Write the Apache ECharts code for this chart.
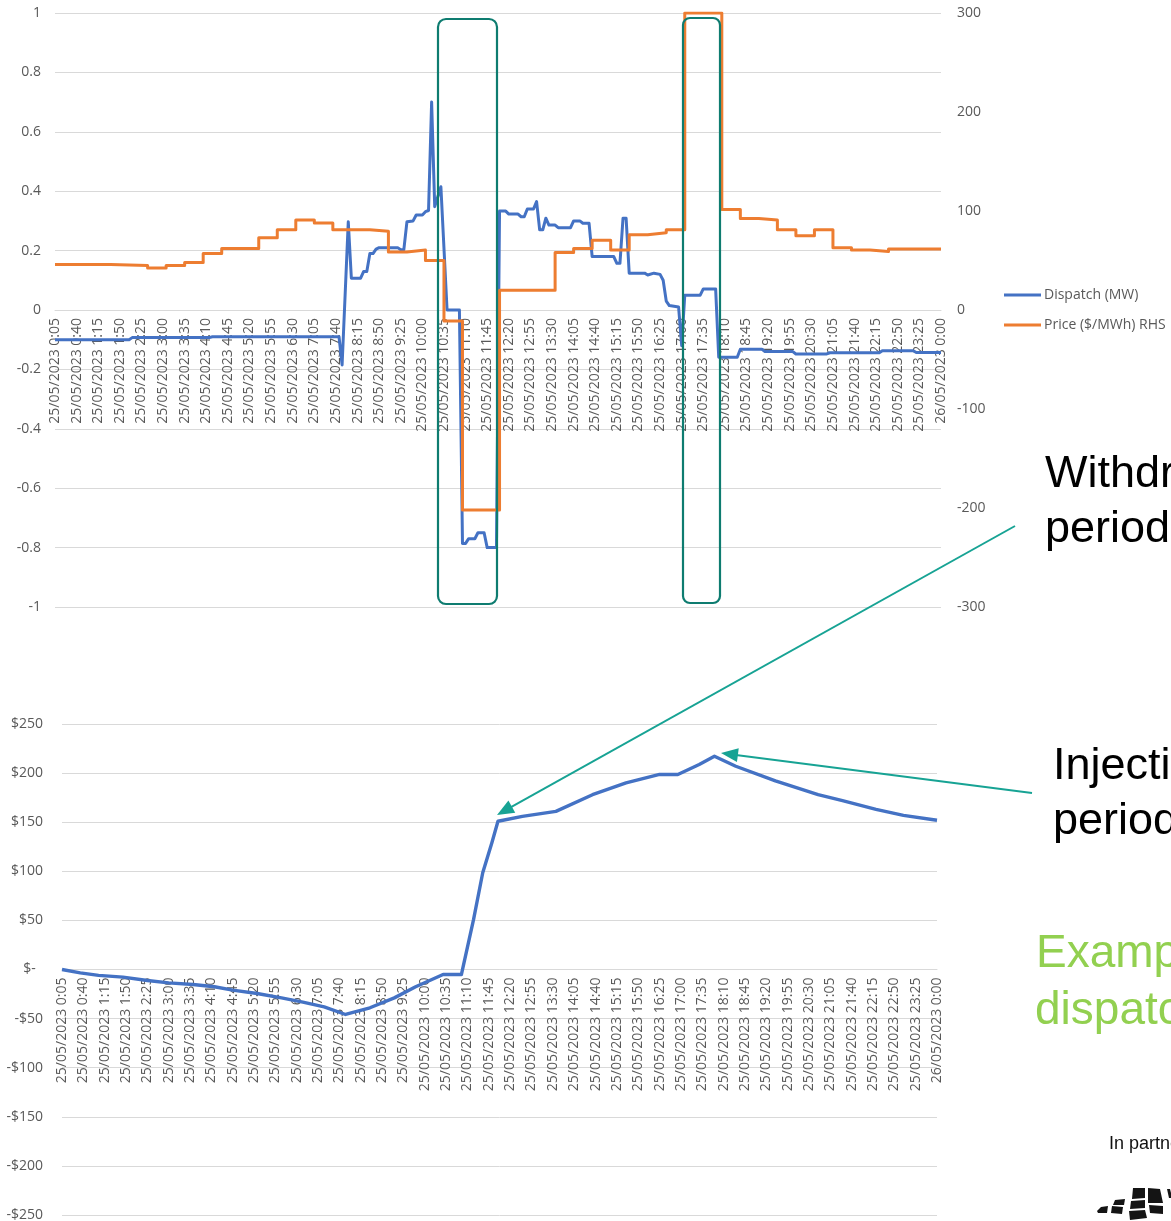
<!DOCTYPE html>
<html>
<head>
<meta charset="utf-8">
<title>Battery dispatch, price and cumulative revenue – 25/05/2023</title>
<script src="https://cdn.jsdelivr.net/npm/echarts@6/dist/echarts.min.js"></script>
<style>
  html, body { margin: 0; padding: 0; background: #ffffff; }
  #chart { width: 1171px; height: 1221px; }
</style>
</head>
<body>
<div id="chart"></div>
<script>
// ---- Data: 25/05/2023, five-minute dispatch intervals --------------------

// Category axis: one slot per five-minute interval ending 0:05 ... 24:00
const categories = [];
for (let m = 5; m <= 1440; m += 5) {
  const day = m === 1440 ? '26/05/2023' : '25/05/2023';
  const h = Math.floor(m / 60) % 24;
  const mm = String(m % 60).padStart(2, '0');
  categories.push(day + ' ' + h + ':' + mm);
}
// A date label is printed on every 7th slot (every 35 minutes)
const labelEvery = 7;

// Battery dispatch (MW) at the intervals where it changes
const dispatchMW = [
  ['0:05', -0.10], ['2:05', -0.10], ['2:10', -0.093], ['4:15', -0.093], ['4:20', -0.09],
  ['7:45', -0.09], ['7:50', -0.185], ['8:00', 0.297], ['8:05', 0.107], ['8:20', 0.107],
  ['8:25', 0.13], ['8:30', 0.13], ['8:35', 0.19], ['8:40', 0.19], ['8:45', 0.205],
  ['8:50', 0.21], ['9:20', 0.21], ['9:25', 0.203], ['9:30', 0.203], ['9:35', 0.297],
  ['9:45', 0.30], ['9:50', 0.32], ['10:00', 0.32], ['10:05', 0.331], ['10:10', 0.335],
  ['10:15', 0.70], ['10:20', 0.348], ['10:30', 0.415], ['10:40', 0], ['11:00', 0],
  ['11:05', -0.786], ['11:10', -0.786], ['11:15', -0.77], ['11:25', -0.77], ['11:30', -0.75],
  ['11:40', -0.75], ['11:45', -0.80], ['12:00', -0.80], ['12:05', 0.333], ['12:15', 0.333],
  ['12:20', 0.323], ['12:35', 0.323], ['12:40', 0.314], ['12:45', 0.314], ['12:50', 0.34],
  ['13:00', 0.34], ['13:05', 0.365], ['13:10', 0.27], ['13:15', 0.27], ['13:20', 0.309],
  ['13:25', 0.286], ['13:35', 0.286], ['13:40', 0.277], ['14:00', 0.277], ['14:05', 0.30],
  ['14:15', 0.30], ['14:20', 0.292], ['14:30', 0.292], ['14:35', 0.18], ['15:10', 0.18],
  ['15:15', 0.157], ['15:20', 0.157], ['15:25', 0.309], ['15:30', 0.309], ['15:35', 0.124],
  ['16:00', 0.124], ['16:05', 0.118], ['16:15', 0.124], ['16:25', 0.12], ['16:30', 0.10],
  ['16:35', 0.03], ['16:40', 0.015], ['16:55', 0.01], ['17:00', -0.12], ['17:05', 0.05],
  ['17:30', 0.05], ['17:35', 0.071], ['17:55', 0.071], ['18:00', -0.159], ['18:30', -0.159],
  ['18:35', -0.132], ['19:10', -0.132], ['19:15', -0.14], ['20:00', -0.14], ['20:05', -0.148],
  ['20:55', -0.148], ['21:00', -0.144], ['22:20', -0.144], ['22:25', -0.137], ['23:15', -0.137],
  ['23:20', -0.143], ['24:00', -0.143]
];

// Spot price ($/MWh): start of each half-hour price level (held until the next one)
const priceLevels = [
  ['0:05', 46], ['1:35', 45], ['2:35', 42.5], ['3:05', 45], ['3:35', 48], ['4:05', 57],
  ['4:35', 62], ['5:35', 73], ['6:05', 81], ['6:35', 91], ['7:05', 88], ['7:35', 81],
  ['8:35', 79.5], ['9:05', 58.5], ['9:35', 60.5], ['10:05', 50], ['10:35', -11],
  ['11:05', -202], ['12:05', 20], ['13:35', 58], ['14:05', 62], ['14:35', 70.5],
  ['15:05', 60.5], ['15:35', 76], ['16:05', 78], ['16:35', 81], ['17:05', 300],
  ['18:05', 101.5], ['18:35', 92.5], ['19:05', 91], ['19:35', 81], ['20:05', 75],
  ['20:35', 81], ['21:05', 63], ['21:35', 60.5], ['22:05', 59], ['22:35', 61.5],
  ['24:00', 61.5]
];

// Cumulative trading revenue ($)
const cumulativeRevenue = [
  ['0:05', 0], ['0:35', -3.4], ['1:05', -6], ['1:45', -7.8], ['2:25', -11.2], ['3:00', -13.6],
  ['3:40', -15.3], ['4:15', -17.6], ['4:45', -21], ['5:25', -24.4], ['6:05', -28.9],
  ['6:40', -33.3], ['7:15', -38], ['7:50', -45.8], ['8:30', -39], ['9:10', -28.9],
  ['9:45', -17.6], ['10:30', -5.1], ['11:00', -5.1], ['11:20', 51], ['11:35', 98.5],
  ['11:50', 129], ['12:00', 151], ['12:40', 156], ['13:35', 161], ['14:35', 178],
  ['15:30', 190], ['16:25', 198.6], ['16:55', 198.6], ['17:30', 208.8], ['17:55', 217.2],
  ['18:30', 207], ['19:35', 192], ['20:45', 178], ['21:25', 172], ['22:20', 163],
  ['23:05', 157], ['24:00', 152]
];

// Axis ticks
const mwTicks = { min: -1, max: 1, step: 0.2 };
const priceTicks = { min: -300, max: 300, step: 100 };
const revenueTicks = { min: -250, max: 250, step: 50 };

// ---- Helpers ---------------------------------------------------------------

// 'h:mm' on 25/05 -> slot index; '24:00' is midnight into 26/05
function slot(t) {
  const name = t === '24:00' ? '26/05/2023 0:00' : '25/05/2023 ' + t;
  return categories.indexOf(name);
}
function toSeries(pairs) {
  return pairs.map(function (p) { return [slot(p[0]), p[1]]; });
}
function money(v) {
  if (v === 0) return '$-  ';
  return (v < 0 ? '-$' : '$') + Math.abs(v);
}

const GREY_TEXT = '#595959';
const GRID_LINE = '#d9d9d9';
const FONT = 'Open Sans';

// Plot areas (pixels)
const TOP_GRID = { left: 55, right: 230, top: 13, height: 594 };
const BOTTOM_GRID = { left: 62, right: 234, top: 724, height: 491 };

// The date labels hang from the zero line of each chart: shift the
// category axis up from the plot bottom by the distance to y = 0.
function zeroOffset(grid, ticks) {
  return -grid.height * (0 - ticks.min) / (ticks.max - ticks.min);
}

function catAxis(gridIndex, offset) {
  return {
    type: 'category',
    gridIndex: gridIndex,
    data: categories,
    boundaryGap: false,
    position: 'bottom',
    offset: offset,
    axisLine: { show: true, onZero: false, lineStyle: { color: GRID_LINE, width: 1 } },
    axisTick: { show: false },
    splitLine: { show: false },
    axisLabel: {
      interval: labelEvery - 1,
      rotate: 90,
      margin: 8,
      color: GREY_TEXT,
      fontSize: 14,
      fontFamily: FONT
    }
  };
}

// ---- Annotation shapes (boxes, arrows, side notes) -------------------------

const BOX = '#0e7c70';
const ARROW = '#17a394';

function arrow(tail, tip) {
  const dx = tip[0] - tail[0], dy = tip[1] - tail[1];
  const len = Math.hypot(dx, dy);
  const ux = dx / len, uy = dy / len;
  const head = 17, half = 7;
  const bx = tip[0] - ux * head, by = tip[1] - uy * head;
  return [
    { type: 'line', z: 100, shape: { x1: tail[0], y1: tail[1], x2: bx + ux * 2, y2: by + uy * 2 },
      style: { stroke: ARROW, lineWidth: 2 } },
    { type: 'polygon', z: 100,
      shape: { points: [tip, [bx - uy * half, by + ux * half], [bx + uy * half, by - ux * half]] },
      style: { fill: ARROW } }
  ];
}

function note(text, x, baseline, size, color) {
  return {
    type: 'text', z: 100, x: x, y: baseline - size * 0.35,
    style: { text: text, fill: color, font: size + 'px "Liberation Sans", Arial, sans-serif',
             align: 'left', verticalAlign: 'middle' }
  };
}

const logoCells = [
  [[1097, 1211], [1101, 1207], [1108, 1206], [1107, 1213], [1098, 1213]],
  [[1112, 1206], [1123, 1207], [1122, 1214], [1111, 1213]],
  [[1115, 1200], [1125, 1199], [1124, 1205], [1113, 1205]],
  [[1133, 1188], [1145, 1188], [1145, 1198], [1132, 1199]],
  [[1131, 1201], [1145, 1200], [1145, 1208], [1130, 1209]],
  [[1129, 1211], [1145, 1210], [1147, 1218], [1130, 1220]],
  [[1148, 1188], [1160, 1189], [1163, 1203], [1148, 1203]],
  [[1149, 1205], [1163, 1206], [1163, 1214], [1150, 1213]],
  [[1167, 1189], [1170, 1189], [1171, 1193], [1171, 1198], [1169, 1198]]
];

const graphics = [
  { type: 'rect', z: 100, shape: { x: 438, y: 19, width: 59, height: 585, r: 8 },
    style: { fill: null, stroke: BOX, lineWidth: 2.2 } },
  { type: 'rect', z: 100, shape: { x: 683, y: 18, width: 37, height: 585, r: 7 },
    style: { fill: null, stroke: BOX, lineWidth: 2.2 } }
]
  .concat(arrow([1015, 526], [497, 815]))
  .concat(arrow([1032, 793], [721, 753]))
  .concat([
    note('Withdrawal', 1045, 490, 45, '#000000'),
    note('period', 1045, 545, 45, '#000000'),
    note('Injection', 1053, 782, 45, '#000000'),
    note('period', 1053, 837, 45, '#000000'),
    note('Example', 1036, 970, 46, '#92d050'),
    note('dispatch', 1035, 1027, 46, '#92d050'),
    note('In partnership with', 1109, 1150, 18, '#111111')
  ])
  .concat(logoCells.map(function (pts) {
    return { type: 'polygon', z: 100, shape: { points: pts }, style: { fill: '#141414' } };
  }));

// ---- Chart -----------------------------------------------------------------

const chart = echarts.init(document.getElementById('chart'), null, { renderer: 'canvas' });

chart.setOption({
  animation: false,
  backgroundColor: '#ffffff',
  textStyle: { fontFamily: FONT },
  grid: [
    Object.assign({ outerBoundsMode: 'none', containLabel: false }, TOP_GRID),
    Object.assign({ outerBoundsMode: 'none', containLabel: false }, BOTTOM_GRID)
  ],
  legend: {
    orient: 'vertical',
    left: 1004,
    top: 288,
    padding: 0,
    icon: 'rect',
    itemWidth: 37,
    itemHeight: 3,
    itemGap: 16,
    selectedMode: false,
    data: ['Dispatch (MW)', 'Price ($/MWh) RHS'],
    textStyle: { color: GREY_TEXT, fontSize: 14, fontFamily: FONT, padding: [0, 0, 0, -2] }
  },
  xAxis: [
    catAxis(0, zeroOffset(TOP_GRID, mwTicks)),
    catAxis(1, zeroOffset(BOTTOM_GRID, revenueTicks))
  ],
  yAxis: [
    {
      type: 'value', gridIndex: 0, position: 'left',
      min: mwTicks.min, max: mwTicks.max, interval: mwTicks.step,
      axisLine: { show: false }, axisTick: { show: false },
      splitLine: { show: true, lineStyle: { color: GRID_LINE, width: 1 } },
      axisLabel: { color: GREY_TEXT, fontSize: 14, fontFamily: FONT, margin: 14,
        formatter: function (v) { return String(Math.round(v * 10) / 10); } }
    },
    {
      type: 'value', gridIndex: 0, position: 'right',
      min: priceTicks.min, max: priceTicks.max, interval: priceTicks.step,
      axisLine: { show: false }, axisTick: { show: false },
      splitLine: { show: false },
      axisLabel: { color: GREY_TEXT, fontSize: 14, fontFamily: FONT, margin: 16 }
    },
    {
      type: 'value', gridIndex: 1, position: 'left',
      min: revenueTicks.min, max: revenueTicks.max, interval: revenueTicks.step,
      axisLine: { show: false }, axisTick: { show: false },
      splitLine: { show: true, lineStyle: { color: GRID_LINE, width: 1 } },
      axisLabel: { color: GREY_TEXT, fontSize: 14, fontFamily: FONT, margin: 19, formatter: money }
    }
  ],
  series: [
    {
      name: 'Dispatch (MW)', type: 'line', xAxisIndex: 0, yAxisIndex: 0,
      data: toSeries(dispatchMW), symbol: 'none', color: '#4472c4',
      lineStyle: { color: '#4472c4', width: 3, join: 'round' }
    },
    {
      name: 'Price ($/MWh) RHS', type: 'line', xAxisIndex: 0, yAxisIndex: 1,
      data: toSeries(priceLevels), step: 'end', symbol: 'none', color: '#ed7d31',
      lineStyle: { color: '#ed7d31', width: 3, join: 'round' }
    },
    {
      name: 'Cumulative revenue ($)', type: 'line', xAxisIndex: 1, yAxisIndex: 2,
      data: toSeries(cumulativeRevenue), symbol: 'none', color: '#4472c4',
      lineStyle: { color: '#4472c4', width: 3.4, join: 'round' }
    }
  ],
  graphic: { elements: graphics }
});
</script>
</body>
</html>
